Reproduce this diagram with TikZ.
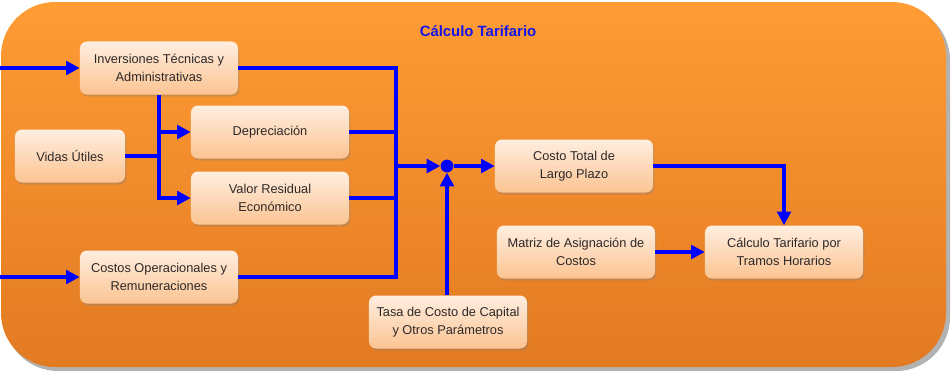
\documentclass[tikz,border=0pt]{standalone}
\usepackage{fontspec}
\setmainfont{Liberation Sans}
\usetikzlibrary{positioning,shadows,arrows.meta}

\definecolor{fondoArriba}{RGB}{255,156,52}
\definecolor{fondoAbajo}{RGB}{226,122,34}
\definecolor{cajaArriba}{RGB}{255,238,224}
\definecolor{cajaAbajo}{RGB}{251,196,146}
\definecolor{texto}{RGB}{45,40,40}
\definecolor{titulo}{RGB}{20,20,235}

\begin{document}
\begin{tikzpicture}[%
    x=0.025cm, y=-0.025cm,
    caja/.style={
        rounded corners=5pt,
        top color=cajaArriba,
        bottom color=cajaAbajo,
        minimum width=3.95cm,
        minimum height=1.325cm,
        align=center,
        text=texto,
        font=\fontsize{9.1}{12.8}\selectfont,
        drop shadow={shadow xshift=1pt, shadow yshift=-1.5pt, opacity=0.35}
        },
    flujo/.style={blue, line width=2.6pt},
    flecha/.style={flujo, -{Triangle[length=3.4mm,width=3.4mm]}},
    punto/.style={circle, fill=blue, inner sep=0pt, minimum size=3.2mm}
]
\useasboundingbox (0,0) rectangle (951,371);

% fondo
\fill[black, opacity=0.3, rounded corners=1.35cm] (4,6) rectangle (950,371);
\shade[top color=fondoArriba, bottom color=fondoAbajo, rounded corners=1.35cm]
    (1,2) rectangle (946,367);
\node[titulo, font=\fontsize{10.6}{13}\selectfont\bfseries] (tit) at (478,31) {Cálculo Tarifario};

% cajas
\node[caja] (inv) at (159,68) {Inversiones Técnicas y\\Administrativas};
\node[caja, minimum width=2.75cm] (vidas) at (70,156) {Vidas Útiles};
\node[caja] (dep) at (270,132) {Depreciación};
\node[caja] (val) at (270,198) {Valor Residual\\Económico};
\node[caja] (ope) at (159,277) {Costos Operacionales y\\Remuneraciones};
\node[caja] (tasa) at (448,322) {Tasa de Costo de Capital\\y Otros Parámetros};
\node[caja] (total) at (574,166) {Costo Total de\\Largo Plazo};
\node[caja] (matriz) at (576,252) {Matriz de Asignación de\\Costos};
\node[caja] (tramos) at (784,252) {Cálculo Tarifario por\\Tramos Horarios};
\node[punto] (suma) at (447,166) {};

\coordinate (entInv) at (0,68);
\coordinate (entOpe) at (0,277);
\coordinate (bus) at (396,166);

% conexiones
\draw[flecha] (entInv) -- (inv);
\draw[flecha] (entOpe) -- (ope);
\draw[flecha] (inv.south) |- (val.west);
\draw[flecha] (inv.south |- dep.west) -- (dep.west);
\draw[flujo] (vidas.east) -- (vidas.east -| inv.south);
\draw[flujo] (inv.east) -| (bus);
\draw[flujo] (ope.east) -| (bus);
\draw[flujo] (dep.east) -- (dep.east -| bus);
\draw[flujo] (val.east) -- (val.east -| bus);
\draw[flecha] (bus) -- (suma);
\draw[flecha] (tasa.north -| suma) -- (suma);
\draw[flecha] (suma) -- (total);
\draw[flecha] (total.east) -| (tramos.north);
\draw[flecha] (matriz) -- (tramos);

\end{tikzpicture}
\end{document}
